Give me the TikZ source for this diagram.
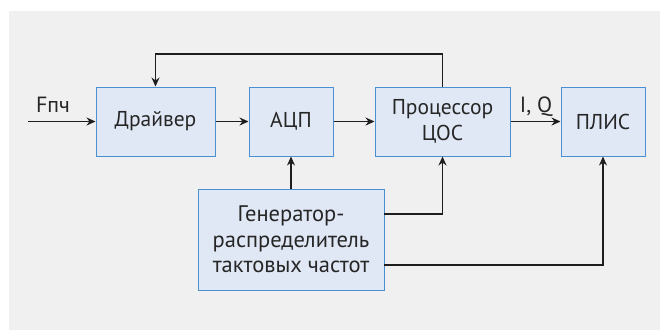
\documentclass[tikz,border=0pt]{standalone}
\usepackage{fontspec}
\setmainfont{PT Sans}
\usetikzlibrary{arrows.meta}
\definecolor{bgc}{HTML}{F0F0F0}
\definecolor{boxfill}{HTML}{E1E8F5}
\definecolor{boxline}{HTML}{4A90D0}
\definecolor{linec}{HTML}{1E1E1E}
\definecolor{txt}{HTML}{262626}
\tikzset{
  blk/.style={draw=boxline, fill=boxfill, line width=1pt, inner sep=0pt, align=center,
    font=\fontsize{21.5}{25.5}\selectfont, text=txt},
  genblk/.style={blk, font=\fontsize{22.5}{25.5}\selectfont},
  conn/.style={draw=linec, line width=1.2pt, -{Stealth[length=9pt,width=8pt]}},
  lbl/.style={font=\fontsize{22}{24}\selectfont, text=txt, inner sep=0pt, anchor=base}
}
\begin{document}
\begin{tikzpicture}[x=1pt,y=-1pt]
\useasboundingbox (0,0) rectangle (661,330);
\fill[white] (0,0) rectangle (661,330);
\fill[bgc] (9,11) rectangle (660,330);
\node[blk, minimum width=119pt, minimum height=69pt] (drv) at (155.5,121.5) {Драйвер};
\node[blk, minimum width=84pt, minimum height=69pt] (adc) at (291,121.5) {АЦП};
\node[blk, minimum width=135pt, minimum height=69pt] (dsp) at (442.5,121.5) {Процессор\\ЦОС};
\node[blk, minimum width=84pt, minimum height=69pt] (fpga) at (603,121.5) {ПЛИС};
\node[genblk, minimum width=186pt, minimum height=101pt] (gen) at (291,239.5) {Генератор-\\распределитель\\тактовых частот};
\coordinate (in) at (28,121.5);
\draw[conn] (in) -- (drv.west);
\node[lbl] (fin) at (53,112) {Fпч};
\draw[conn] (drv) -- (adc);
\draw[conn] (adc) -- (dsp);
\draw[conn] (dsp) -- (fpga);
\node[lbl] (iq) at (536,112) {I, Q};
\coordinate (fbr) at (442.5,54);
\coordinate (fbl) at (155.5,54);
\draw[conn] (dsp.north) -- (fbr) -- (fbl) -- (drv.north);
\draw[conn] (gen.north) -- (adc.south);
\coordinate (g1) at (384,214);
\coordinate (g2) at (384,265);
\draw[conn] (g1) -| (dsp.south);
\draw[conn] (g2) -| (fpga.south);
\end{tikzpicture}
\end{document}
